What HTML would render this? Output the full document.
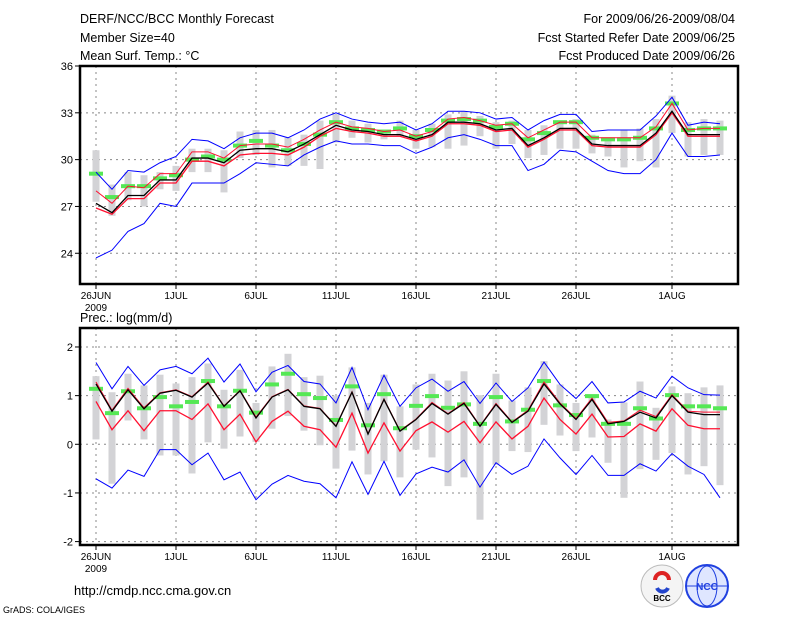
<!DOCTYPE html>
<html><head><meta charset="utf-8">
<style>
body{margin:0;background:#fff;width:800px;height:618px;overflow:hidden}
svg{display:block}
text{font-family:"Liberation Sans",sans-serif;fill:#000}
</style></head>
<body>
<svg id="chart" width="800" height="618" viewBox="0 0 800 618" xmlns="http://www.w3.org/2000/svg">
<rect width="800" height="618" fill="#fff"/>
<text x="80" y="23" font-size="12.5">DERF/NCC/BCC Monthly Forecast</text>
<text x="80" y="42" font-size="12.5">Member Size=40</text>
<text x="80" y="60" font-size="12.5">Mean Surf. Temp.: °C</text>
<text x="735" y="23" font-size="12.5" text-anchor="end">For 2009/06/26-2009/08/04</text>
<text x="735" y="42" font-size="12.5" text-anchor="end">Fcst Started Refer Date 2009/06/25</text>
<text x="735" y="60" font-size="12.5" text-anchor="end">Fcst Produced Date 2009/06/26</text>
<text x="80" y="322" font-size="12.5">Prec.: log(mm/d)</text>
<text x="74" y="595" font-size="13">http://cmdp.ncc.cma.gov.cn</text>
<text x="3" y="613" font-size="9">GrADS: COLA/IGES</text>
<g>
<circle cx="662" cy="586" r="21" fill="#f4f4f4" stroke="#bbb"/>
<path d="M655 580 a7 7 0 1 1 14 0" fill="none" stroke="#d22" stroke-width="4"/>
<path d="M657 588 a6 6 0 0 0 11 0" fill="none" stroke="#24c" stroke-width="4"/>
<text x="662" y="601" font-size="8" text-anchor="middle" font-weight="bold">BCC</text>
</g>
<g>
<circle cx="707" cy="586" r="21" fill="#dfe6ff" stroke="#2040e0" stroke-width="2"/>
<ellipse cx="707" cy="586" rx="10" ry="20" fill="none" stroke="#2040e0"/>
<line x1="687" y1="586" x2="727" y2="586" stroke="#2040e0"/>
<text x="707" y="590" font-size="10" text-anchor="middle" style="fill:#2040e0" font-weight="bold">NCC</text>
</g>
<g id="top"></g>
<g id="bot"></g>
</svg>
<script>
// ---- data ----
const dayLabels = ["26JUN","1JUL","6JUL","11JUL","16JUL","21JUL","26JUL","1AUG"];
const dayTicks = [0,5,10,15,20,25,30,36];
const tTicks = [24,27,30,33,36];
const pTicks = [-2,-1,0,1,2];
// temperature
const tBlack = [27.2,26.6,27.7,27.7,28.7,28.7,30.1,30.1,29.8,30.6,30.7,30.7,30.5,31.0,31.6,32.2,31.9,31.8,31.6,31.6,31.3,31.6,32.4,32.4,32.3,31.9,32.0,30.9,31.4,32.0,32.0,31.0,30.9,30.9,30.9,31.7,33.1,31.6,31.6,31.6];
const tRedHi = [28.0,27.2,28.3,28.2,29.1,29.1,30.5,30.5,30.1,30.9,31.0,31.0,30.8,31.3,31.9,32.4,32.1,32.0,31.8,31.9,31.5,31.8,32.6,32.7,32.5,32.2,32.3,31.4,31.9,32.4,32.4,31.4,31.4,31.4,31.4,32.1,33.6,31.9,32.0,32.0];
const tRedLo = [26.9,26.5,27.5,27.5,28.5,28.5,29.9,29.9,29.6,30.3,30.4,30.4,30.3,30.8,31.5,32.0,31.8,31.7,31.5,31.5,31.2,31.5,32.3,32.3,32.2,31.8,31.9,30.8,31.3,31.9,31.9,30.9,30.8,30.8,30.8,31.6,33.0,31.5,31.5,31.5];
const tBlueHi = [29.2,28.1,29.3,29.2,29.8,30.2,31.3,31.2,30.7,31.4,31.7,31.7,31.4,31.9,32.6,33.0,32.6,32.4,32.3,32.4,31.9,32.3,33.1,33.1,33.0,32.6,32.7,31.9,32.5,32.9,32.9,31.8,31.9,31.9,31.9,32.8,34.0,32.2,32.4,32.3];
const tBlueLo = [23.7,24.2,25.4,25.9,27.2,27.0,28.5,28.5,28.5,29.1,29.8,29.7,29.6,30.3,30.8,31.2,31.0,31.0,30.9,30.9,30.4,30.8,31.4,31.6,31.3,30.9,30.9,29.3,29.7,30.6,30.5,29.9,29.3,29.1,29.1,30.0,31.7,30.2,30.2,30.3];
const tGreen = [29.1,27.6,28.3,28.3,28.8,29.0,30.0,30.2,30.0,30.9,31.2,30.9,30.6,31.0,31.6,32.4,32.0,31.9,31.8,32.0,31.5,31.9,32.5,32.6,32.5,32.1,32.3,31.3,31.7,32.4,32.4,31.4,31.3,31.3,31.4,32.0,33.6,31.9,32.0,32.0];
const tBarTop = [30.6,28.4,29.2,29.0,29.2,29.6,30.7,30.7,30.6,31.8,31.9,31.9,31.4,31.6,32.5,32.9,32.5,32.3,31.9,32.5,31.9,32.3,32.9,33.1,32.8,32.4,32.5,31.9,32.2,32.5,32.6,31.6,31.4,31.9,32.0,32.6,34.1,32.4,32.6,32.5];
const tBarBot = [27.3,26.4,27.4,27.0,28.1,28.0,29.2,29.2,27.9,30.1,30.3,29.5,29.6,29.6,29.4,31.1,31.4,31.1,31.3,31.5,30.7,30.8,30.7,30.9,31.5,30.7,31.0,30.1,30.3,30.7,30.7,30.4,30.2,29.5,29.9,29.5,31.7,30.2,30.3,30.3];
// precipitation
const pBlack = [1.24,0.68,1.12,0.73,1.05,1.11,0.97,1.26,0.78,1.10,0.54,0.97,1.12,0.78,0.73,0.37,1.07,0.21,0.92,0.27,0.51,0.84,0.62,0.84,0.37,0.82,0.45,0.68,1.24,0.83,0.51,0.92,0.42,0.47,0.66,0.54,1.00,0.66,0.61,0.61];
const pRedHi = [1.28,0.70,1.15,0.75,1.06,1.12,0.98,1.28,0.79,1.11,0.56,0.98,1.13,0.79,0.74,0.38,1.08,0.22,0.93,0.28,0.52,0.86,0.63,0.86,0.38,0.84,0.46,0.70,1.28,0.85,0.53,0.95,0.45,0.48,0.70,0.57,1.02,0.68,0.66,0.66];
const pRedLo = [0.88,0.30,0.69,0.28,0.69,0.69,0.51,0.83,0.30,0.62,0.05,0.47,0.68,0.37,0.30,-0.06,0.64,-0.18,0.44,-0.14,0.28,0.46,0.25,0.47,0.03,0.46,0.11,0.37,0.95,0.51,0.21,0.62,0.15,0.16,0.42,0.27,0.73,0.39,0.32,0.32];
const pBlueHi = [1.68,1.14,1.60,1.21,1.53,1.60,1.45,1.77,1.28,1.65,1.08,1.48,1.62,1.29,1.24,0.85,1.58,0.71,1.42,0.78,1.16,1.34,1.09,1.29,0.84,1.26,0.88,1.16,1.69,1.23,0.94,1.29,0.85,0.87,1.09,0.95,1.40,1.16,1.02,1.01];
const pBlueLo = [-0.71,-0.90,-0.53,-0.66,-0.11,-0.11,-0.42,-0.18,-0.73,-0.57,-1.14,-0.82,-0.64,-0.76,-0.81,-1.10,-0.36,-1.03,-0.35,-1.05,-0.61,-0.47,-0.57,-0.32,-0.88,-0.38,-0.62,-0.45,0.11,-0.28,-0.62,-0.23,-0.64,-0.64,-0.40,-0.55,-0.19,-0.45,-0.62,-1.10];
const pGreen = [1.14,0.64,1.09,0.74,0.97,0.78,0.87,1.30,0.78,1.10,0.65,1.23,1.45,1.03,0.95,0.50,1.19,0.39,1.03,0.33,0.79,0.99,0.75,0.82,0.42,0.97,0.47,0.71,1.30,0.80,0.60,0.99,0.42,0.42,0.74,0.53,1.01,0.78,0.78,0.74];
const pBarTop = [1.40,1.07,1.45,1.21,1.43,1.25,1.38,1.66,1.12,1.53,0.85,1.60,1.86,1.38,1.41,1.00,1.58,0.85,1.43,0.78,1.23,1.45,1.31,1.50,1.01,1.45,0.90,1.17,1.71,1.23,0.85,1.02,0.51,0.86,1.29,0.75,1.19,1.05,1.17,1.21];
const pBarBot = [0.10,-0.81,0.49,0.10,-0.23,-0.23,-0.60,0.04,-0.09,0.16,0.05,0.32,0.58,0.28,-0.02,-0.50,-0.13,-0.62,-0.35,-0.68,-0.11,-0.27,-0.86,-0.68,-1.55,-0.42,-0.14,-0.16,0.40,0.18,-0.14,0.14,-0.38,-1.10,-0.51,-0.32,-0.18,-0.62,-0.45,-0.84];

const NS="http://www.w3.org/2000/svg";
const X0=80,X1=738;
function xs(d){return 96+16*d;}
function mk(parent,tag,attrs){const e=document.createElementNS(NS,tag);for(const k in attrs)e.setAttribute(k,attrs[k]);parent.appendChild(e);return e;}

function panel(g,top,bottom,vmin,vmax,ticks,S){
  const ys=v=>bottom-(v-vmin)/(vmax-vmin)*(bottom-top);
  ticks.forEach(t=>{const y=ys(t);
    const l=mk(g,'line',{x1:X0,x2:X1,y1:y,y2:y,stroke:'#888','stroke-dasharray':'2,4'});
    
    
    const tk=mk(g,'line',{x1:X0-5,x2:X0,y1:y,y2:y,stroke:'#000'});
    
    
    const tx=mk(g,'text',{x:X0-7,y:y+4,'font-size':11,'text-anchor':'end'});tx.textContent=t;
    
    
  });
  dayTicks.forEach((d,i)=>{const x=xs(d);
    const l=mk(g,'line',{x1:x,x2:x,y1:top,y2:bottom,stroke:'#888','stroke-dasharray':'2,4'});
    
    
    const tk=mk(g,'line',{x1:x,x2:x,y1:bottom,y2:bottom+5,stroke:'#000'});
    
    
    const tx=mk(g,'text',{x:x,y:bottom+15,'font-size':10,'text-anchor':'middle'});tx.textContent=dayLabels[i];
    
    
  });
  const yr=mk(g,'text',{x:96,y:bottom+27,'font-size':10,'text-anchor':'middle'});yr.textContent='2009';
  
  
  S.barTop.forEach((v,i)=>{const y1=ys(v),y2=ys(S.barBot[i]);
    const r=mk(g,'rect',{x:xs(i)-3.5,y:y1,width:7,height:y2-y1,fill:'#d3d3d6'});
    
    
  });
  S.green.forEach((v,i)=>{
    const r=mk(g,'rect',{x:xs(i)-7,y:ys(v)-2,width:14,height:4,fill:'#55e855'});
    
    
  });
  const line=(arr,col,w,name)=>{
    const p=mk(g,'polyline',{points:arr.map((v,i)=>xs(i)+','+ys(v)).join(' '),fill:'none',stroke:col,'stroke-width':w});
    
    
  };
  line(S.blueHi,'#0000ff',1,'max-line');
  line(S.blueLo,'#0000ff',1,'min-line');
  line(S.redLo,'#ff1030',1.3,'red-lower-line');
  line(S.redHi,'#ff1030',1,'red-upper-line');
  line(S.black,'#000',1.3,'ensemble-mean-line');
  const f=mk(g,'rect',{x:X0,y:top,width:X1-X0,height:bottom-top,fill:'none',stroke:'#000','stroke-width':2.5});
  
  
}
const gt=document.getElementById('top');


panel(gt,66,284,22.03,36,tTicks,{black:tBlack,redHi:tRedHi,redLo:tRedLo,blueHi:tBlueHi,blueLo:tBlueLo,green:tGreen,barTop:tBarTop,barBot:tBarBot});
const gb=document.getElementById('bot');


panel(gb,328,545,-2.07,2.39,pTicks,{black:pBlack,redHi:pRedHi,redLo:pRedLo,blueHi:pBlueHi,blueLo:pBlueLo,green:pGreen,barTop:pBarTop,barBot:pBarBot});
</script>
</body></html>
